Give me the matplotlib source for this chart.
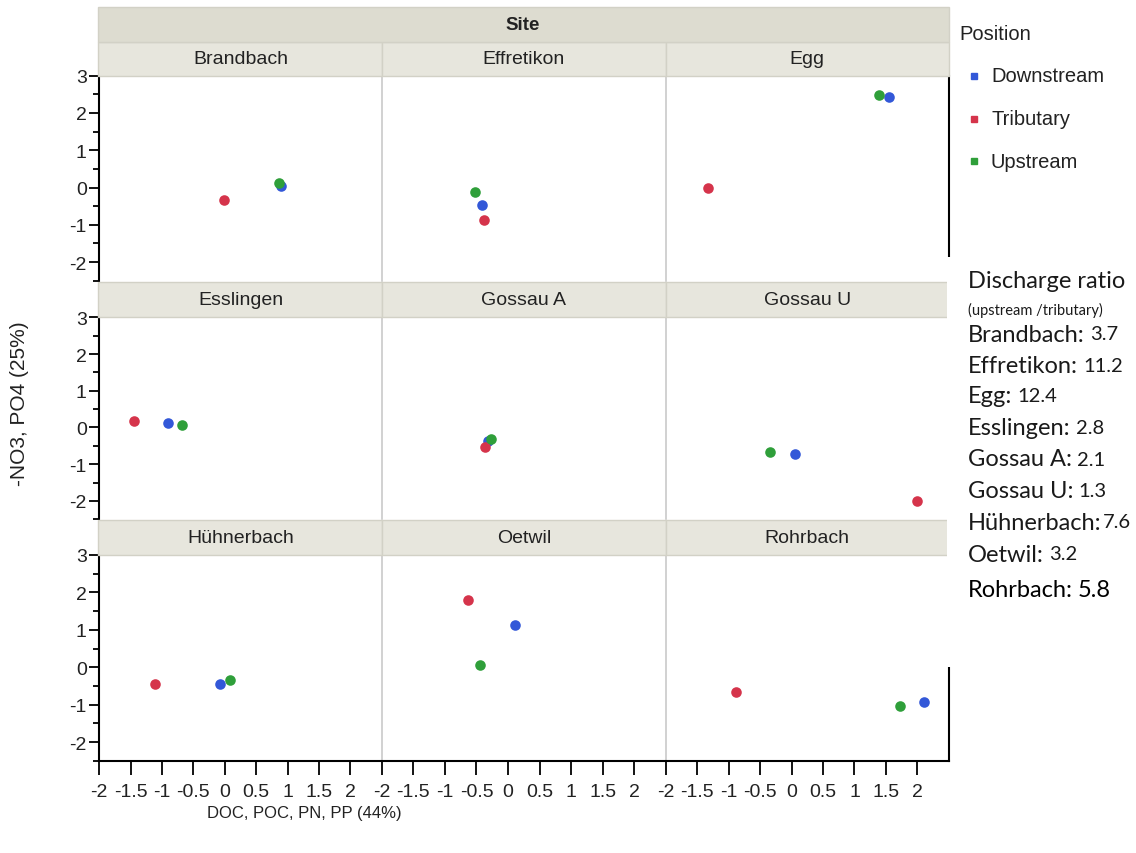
import matplotlib
matplotlib.use("Agg")
import matplotlib.pyplot as plt
from matplotlib.patches import Rectangle
from matplotlib.lines import Line2D

plt.rcParams['font.family'] = ['Liberation Sans', 'DejaVu Sans']
plt.rcParams['axes.unicode_minus'] = False

# --- data ---
sites = ["Brandbach", "Effretikon", "Egg",
         "Esslingen", "Gossau A", "Gossau U",
         "Hühnerbach", "Oetwil", "Rohrbach"]
positions = ["Downstream", "Tributary", "Upstream"]
colors = ["#3358d8", "#d5344b", "#2f9f3a"]

down_x = [0.89, -0.41, 1.55, -0.91, -0.31, 0.05, -0.07, 0.11, 2.10]
down_y = [0.03, -0.47, 2.42, 0.12, -0.38, -0.73, -0.44, 1.12, -0.92]
trib_x = [-0.01, -0.38, -1.33, -1.44, -0.36, 2.00, -1.12, -0.64, -0.88]
trib_y = [-0.34, -0.87, 0.00, 0.17, -0.52, -2.01, -0.44, 1.80, -0.65]
up_x = [0.86, -0.52, 1.39, -0.69, -0.27, -0.34, 0.08, -0.44, 1.73]
up_y = [0.12, -0.11, 2.47, 0.07, -0.30, -0.66, -0.33, 0.07, -1.05]

xticks = [-2, -1.5, -1, -0.5, 0, 0.5, 1, 1.5, 2]
xticklabels = ["-2", "-1.5", "-1", "-0.5", "0", "0.5", "1", "1.5", "2"]
yticks = [-2, -1, 0, 1, 2, 3]
yticklabels = ["-2", "-1", "0", "1", "2", "3"]
yminor = [-2.5, -1.5, -0.5, 0.5, 1.5, 2.5]

ratios = ["3.7", "11.2", "12.4", "2.8", "2.1", "1.3", "7.6", "3.2", "5.8"]
ratio_gap = [1, 1, 1, 1, 1, 1, 0, 1, 1]   # Hühnerbach has no space

series_x = [down_x, trib_x, up_x]
series_y = [down_y, trib_y, up_y]

W, H = 1136, 854
fig = plt.figure(figsize=(W / 100, H / 100), dpi=100)
fig.patch.set_facecolor("white")


def box(x0, y0, x1, y1):
    return [x0 / W, 1 - y1 / H, (x1 - x0) / W, (y1 - y0) / H]


def rect(x0, y0, x1, y1, **kw):
    b = box(x0, y0, x1, y1)
    fig.add_artist(Rectangle((b[0], b[1]), b[2], b[3], transform=fig.transFigure, **kw))


col_x = [(99.3, 381.7), (381.7, 666.0), (666.0, 948.7)]
row_y = [(76.7, 281.7), (318.3, 520.3), (556.0, 761.7)]
strip_y = [(43.3, 76.7), (283.0, 318.3), (521.0, 556.0)]

strip_fc = "#e7e6dd"
strip_ec = "#d2d1c6"
txt_c = "#222222"

for i, site in enumerate(sites):
    r, c = divmod(i, 3)
    x0, x1 = col_x[c]
    y0, y1 = row_y[r]
    ax = fig.add_axes(box(x0, y0, x1, y1))
    for k in range(3):
        ax.scatter(series_x[k][i], series_y[k][i], s=58, color=colors[k],
                   linewidths=0, zorder=3)
    ax.set_xlim(-2, 2.5)
    ax.set_ylim(-2.5, 3)
    ax.set_facecolor("white")

    ax.spines['top'].set_visible(False)
    if r == 2:
        ax.spines['bottom'].set_color("black")
        ax.spines['bottom'].set_linewidth(1.5)
        ax.set_xticks(xticks)
        ax.set_xticklabels(xticklabels)
        ax.tick_params(axis='x', length=10, width=1.3, color="black",
                       labelsize=14, labelcolor=txt_c, pad=6)
    else:
        ax.spines['bottom'].set_visible(False)
        ax.set_xticks([])
    if c == 0:
        ax.spines['left'].set_color("black")
        ax.spines['left'].set_linewidth(1.5)
        ax.set_yticks(yticks)
        ax.set_yticklabels(yticklabels)
        ax.set_yticks(yminor, minor=True)
        ax.tick_params(axis='y', which='major', length=7, width=1.3,
                       color="black", labelsize=14, labelcolor=txt_c, pad=2)
        ax.tick_params(axis='y', which='minor', length=4, width=1.3, color="black")
    else:
        ax.spines['left'].set_color("#c9c9c9")
        ax.spines['left'].set_linewidth(1.2)
        ax.set_yticks([])
    if c == 2:
        ax.spines['right'].set_color("black")
        ax.spines['right'].set_linewidth(1.5)
    else:
        ax.spines['right'].set_visible(False)

    # facet strip
    sy0, sy1 = strip_y[r]
    sx0 = 97.5 if c == 0 else x0
    rect(sx0, sy0, x1, sy1, facecolor=strip_fc, edgecolor=strip_ec, linewidth=1)
    fig.text((x0 + x1) / 2 / W, 1 - (sy0 + sy1) / 2 / H, site,
             ha="center", va="center", fontsize=14, color=txt_c)

# Site header band
rect(97.5, 8.3, 948.7, 43.3, facecolor="#dddcd0", edgecolor=strip_ec, linewidth=1)
fig.text((97.5 + 948.7) / 2 / W, 1 - 26 / H, "Site", ha="center", va="center",
         fontsize=13.5, fontweight="bold", color=txt_c)

# axis titles
fig.text(20 / W, 1 - 404 / H, "-NO3, PO4 (25%)", rotation=90, ha="center",
         va="center", fontsize=15, color=txt_c)
fig.text(304 / W, 1 - 814 / H, "DOC, POC, PN, PP (44%)", ha="center",
         va="center", fontsize=12, color=txt_c)

# legend
fig.text(959 / W, 1 - 35 / H, "Position", ha="left", va="center",
         fontsize=14.5, color=txt_c)
leg_y = [77, 120, 162]
for k, name in enumerate(positions):
    fig.add_artist(Line2D([974 / W], [1 - leg_y[k] / H], transform=fig.transFigure,
                          marker="s", ls="", color=colors[k], markersize=3.8))
    fig.text(991 / W, 1 - leg_y[k] / H, name, ha="left", va="center",
             fontsize=14.5, color=txt_c)

# pasted note box with discharge ratios
rect(947, 258, W, 668, facecolor="white", edgecolor="none", zorder=5)
note_font = ["Lato", "DejaVu Sans"]
fig.text(968 / W, 1 - 282 / H, "Discharge ratio", ha="left", va="center",
         fontsize=17, family=note_font, color="#1a1a1a", zorder=6)
fig.text(968 / W, 1 - 310 / H, "(upstream /tributary)", ha="left", va="center",
         fontsize=10.5, family=note_font, color="#1a1a1a", zorder=6)
renderer = fig.canvas.get_renderer()
line_y = [335, 367, 397, 429, 460, 492, 523, 555, 591]
for i, site in enumerate(sites):
    last = i == len(sites) - 1
    col = "#000000" if last else "#1a1a1a"
    t = fig.text(968 / W, 1 - line_y[i] / H, site + ":", ha="left",
                 va="center", fontsize=17, family=note_font, color=col, zorder=6)
    bb = t.get_window_extent(renderer)
    gap = 5 if ratio_gap[i] else 1
    fig.text((bb.x1 + gap) / W, 1 - line_y[i] / H, ratios[i], ha="left",
             va="center", fontsize=17 if last else 14.5, family=note_font,
             color=col, zorder=6)

fig.savefig("out.png", dpi=100)
